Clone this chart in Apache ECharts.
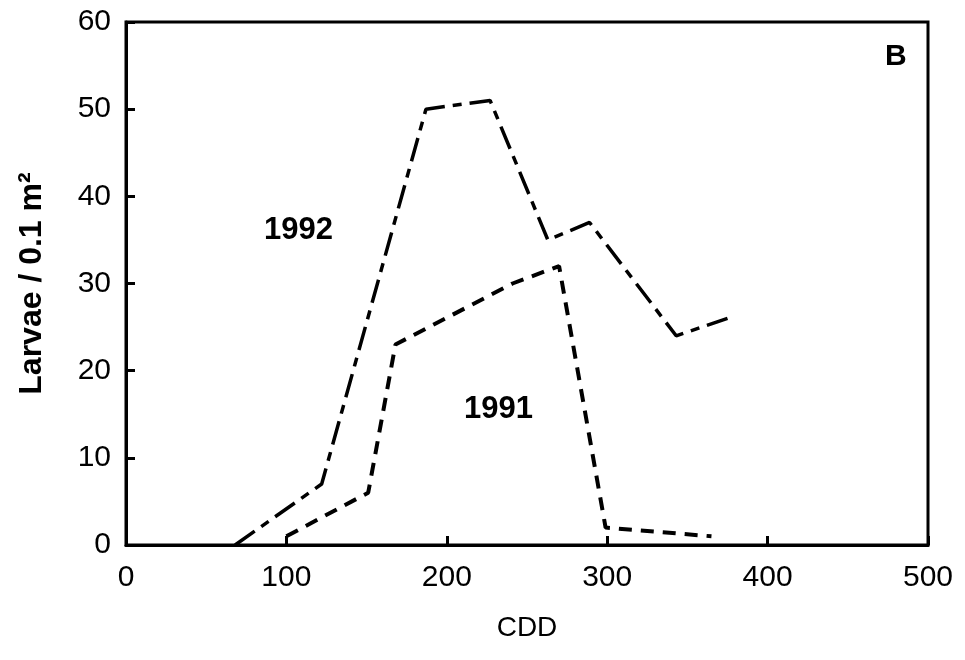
<!DOCTYPE html>
<html>
<head>
<meta charset="utf-8">
<script src="https://cdn.jsdelivr.net/npm/echarts@6/dist/echarts.min.js"></script>
<style>html,body{margin:0;padding:0;background:#fff}#c{width:965px;height:660px}</style>
</head>
<body>
<div id="c"></div>
<script>
var cdd1992 = [68, 122, 187, 227, 263, 289, 343, 375];
var larvae1992 = [0, 7, 50, 51, 35, 37, 24, 26];
var cdd1991 = [100, 151, 168, 241, 270, 299, 365];
var larvae1991 = [1, 6, 23, 30, 32, 2, 1];
var xTicks = [0, 100, 200, 300, 400, 500];
var yTicks = [0, 10, 20, 30, 40, 50, 60];

function pairs(xs, ys) { return xs.map(function (x, i) { return [x, ys[i]]; }); }

var font = '"Liberation Sans", Arial, Helvetica, sans-serif';
var chart = echarts.init(document.getElementById('c'));
chart.setOption({
  backgroundColor: '#fff',
  animation: false,
  grid: { left: 126, right: 37, top: 22, bottom: 115, show: true, borderColor: '#000', borderWidth: 3 },
  xAxis: {
    type: 'value', min: xTicks[0], max: xTicks[xTicks.length - 1], interval: 100,
    name: 'CDD', nameLocation: 'middle', nameGap: 69,
    nameTextStyle: { fontFamily: font, fontSize: 28, color: '#000' },
    axisLine: { show: true, lineStyle: { color: '#000', width: 3 } },
    axisTick: { show: true, inside: true, length: 9, lineStyle: { color: '#000', width: 3 } },
    axisLabel: { fontFamily: font, fontSize: 30, color: '#000', margin: 18 },
    splitLine: { show: false }
  },
  yAxis: {
    type: 'value', min: yTicks[0], max: yTicks[yTicks.length - 1], interval: 10,
    name: 'Larvae / 0.1 m²', nameLocation: 'middle', nameGap: 78, nameRotate: 90,
    nameTextStyle: { fontFamily: font, fontSize: 32, fontWeight: 'bold', color: '#000' },
    axisLine: { show: true, lineStyle: { color: '#000', width: 3 } },
    axisTick: { show: true, inside: true, length: 9, lineStyle: { color: '#000', width: 3 } },
    axisLabel: { fontFamily: font, fontSize: 30, color: '#000', margin: 15 },
    splitLine: { show: false }
  },
  series: [
    {
      name: '1992', type: 'line', data: pairs(cdd1992, larvae1992), symbol: 'none',
      lineStyle: { color: '#000', width: 3.5, type: [24, 8, 9, 8] }
    },
    {
      name: '1991', type: 'line', data: pairs(cdd1991, larvae1991), symbol: 'none',
      lineStyle: { color: '#000', width: 4, type: [13, 9] }
    }
  ],
  graphic: [
    { type: 'text', left: 264, top: 215, style: { text: '1992', font: 'bold 31px ' + font, fill: '#000' } },
    { type: 'text', left: 464, top: 394, style: { text: '1991', font: 'bold 31px ' + font, fill: '#000' } },
    { type: 'text', left: 885, top: 42, style: { text: 'B', font: 'bold 30px ' + font, fill: '#000' } }
  ]
});
</script>
</body>
</html>
